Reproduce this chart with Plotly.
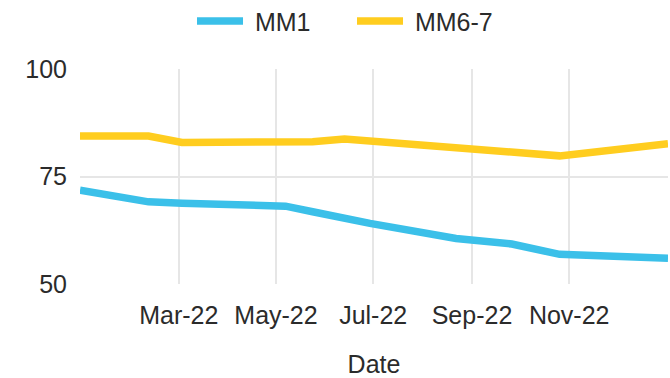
import plotly.graph_objects as go

# Observation dates shared by both series
dates = [
    "2021-12-29", "2022-02-10", "2022-03-03", "2022-04-14", "2022-05-07",
    "2022-05-24", "2022-06-13", "2022-06-29", "2022-08-22", "2022-09-26",
    "2022-10-26", "2023-01-02",
]
mm1 = [71.8, 69.1, 68.8, 68.1, 68.1, 66.8, 65.3, 64.1, 60.6, 59.3, 56.9, 56.0]
mm6_7 = [84.4, 84.4, 82.9, 83.0, 83.1, 83.1, 83.7, 83.2, 81.4, 80.3, 79.8, 82.6]

tick_dates = ["2022-03-01", "2022-05-01", "2022-07-01", "2022-09-01", "2022-11-01"]
tick_text = ["Mar-22", "May-22", "Jul-22", "Sep-22", "Nov-22"]
y_ticks = [50, 75, 100]

FONT = "Liberation Sans, Arial, sans-serif"
TEXT = "#2b2b2b"
GRID = "#e6e6e6"
FS = 25
PAD = "\u00a0"  # small gap between legend swatch and label

fig = go.Figure()
fig.add_trace(go.Scatter(
    x=dates, y=mm1, name=PAD + "MM1", mode="lines",
    line=dict(color="#3BC0E9", width=7.5),
))
fig.add_trace(go.Scatter(
    x=dates, y=mm6_7, name=PAD + "MM6-7", mode="lines",
    line=dict(color="#FFCD1F", width=7.5),
))

fig.update_layout(
    width=670, height=378,
    margin=dict(l=80, r=2, t=69, b=94),
    paper_bgcolor="white", plot_bgcolor="white",
    font=dict(family=FONT, size=FS, color=TEXT),
    showlegend=True,
    legend=dict(
        orientation="h", x=0.4626, xanchor="center", y=0.944, yanchor="middle",
        yref="container", font=dict(size=FS, color=TEXT),
        itemwidth=46, entrywidth=99, entrywidthmode="pixels",
    ),
    xaxis=dict(
        range=[dates[0], dates[-1]],
        tickvals=tick_dates, ticktext=tick_text,
        showgrid=True, gridcolor=GRID, gridwidth=1.5,
        zeroline=False, showline=False, ticks="",
        ticklabelstandoff=14,
        title=dict(text="Date", standoff=28, font=dict(size=FS, color=TEXT)),
        tickfont=dict(size=FS, color=TEXT),
    ),
    yaxis=dict(
        range=[50, 100], tickvals=y_ticks,
        showgrid=True, gridcolor=GRID, gridwidth=1.5,
        zeroline=False, showline=False, ticks="",
        ticklabelstandoff=12,
        tickfont=dict(size=FS, color=TEXT),
    ),
)

fig.write_html("out.html")
